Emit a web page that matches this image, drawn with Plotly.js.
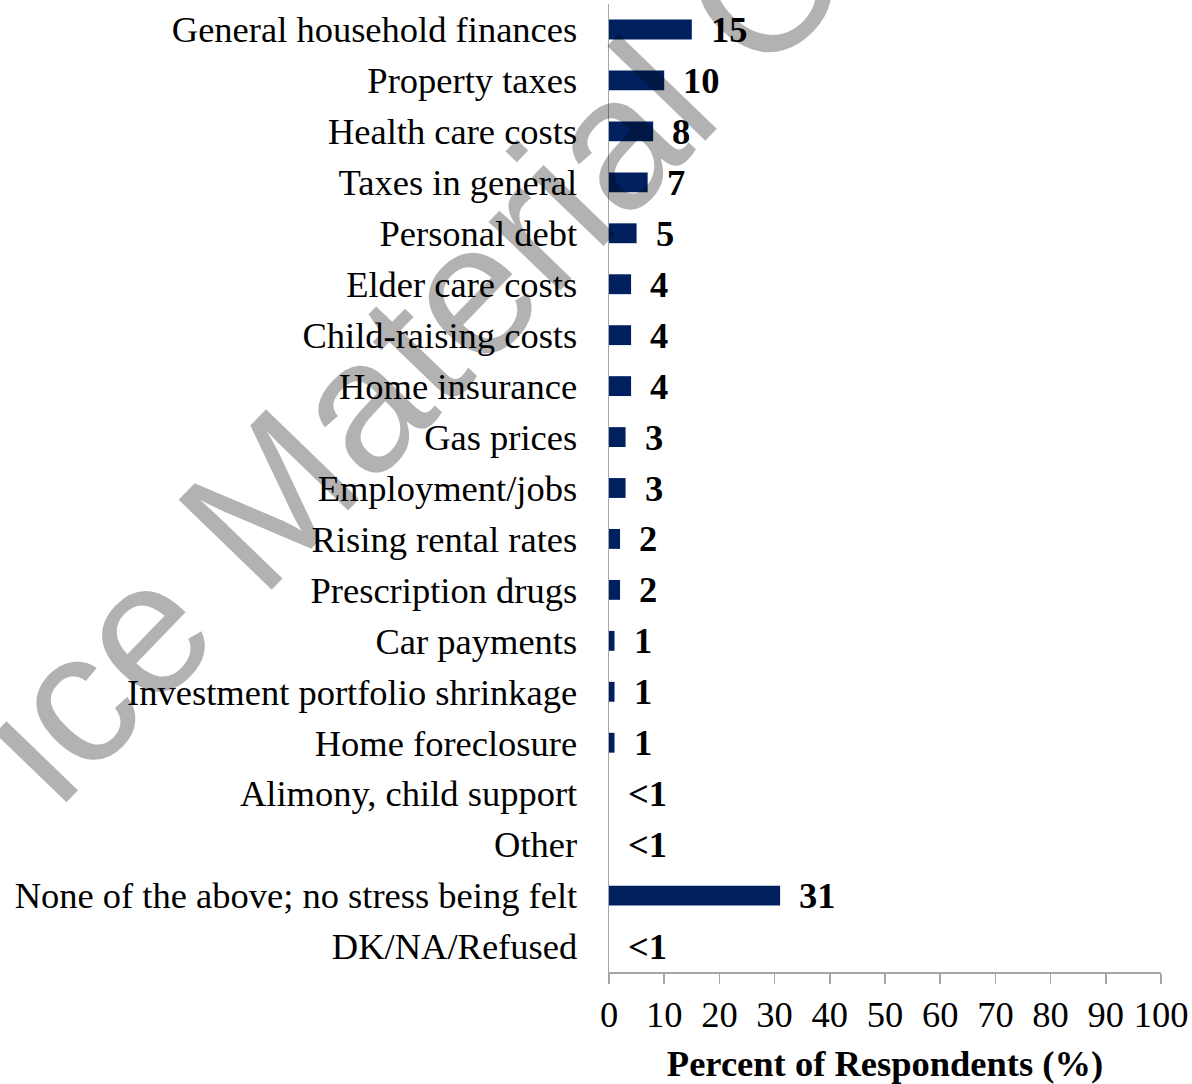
<!DOCTYPE html>
<html>
<head>
<meta charset="utf-8">
<script src="https://cdn.plot.ly/plotly-3.0.1.min.js"></script>
<style>html,body{margin:0;padding:0;background:#fff}#chart{width:1192px;height:1084px}</style>
</head>
<body>
<div id="chart"></div>
<script>
const categories = [
  "General household finances",
  "Property taxes",
  "Health care costs",
  "Taxes in general",
  "Personal debt",
  "Elder care costs",
  "Child-raising costs",
  "Home insurance",
  "Gas prices",
  "Employment/jobs",
  "Rising rental rates",
  "Prescription drugs",
  "Car payments",
  "Investment portfolio shrinkage",
  "Home foreclosure",
  "Alimony, child support",
  "Other",
  "None of the above; no stress being felt",
  "DK/NA/Refused"
];
const values = [15, 10, 8, 7, 5, 4, 4, 4, 3, 3, 2, 2, 1, 1, 1, 0, 0, 31, 0];
const valueLabels = ["15","10","8","7","5","4","4","4","3","3","2","2","1","1","1","<1","<1","31","<1"];
const xTicks = [0,10,20,30,40,50,60,70,80,90,100];
const axisTitle = "Percent of Respondents (%)";
const watermarkText = "ice Material C";

const serif = "'Liberation Serif', 'Times New Roman', serif";
const trace = {
  type: 'bar',
  orientation: 'h',
  x: values,
  y: categories,
  marker: {color: '#002060'},
  width: 0.39,
  hoverinfo: 'none'
};

const annotations = categories.map((c, i) => ({
  x: values[i], y: c, xref: 'x', yref: 'y',
  text: valueLabels[i], showarrow: false,
  xanchor: 'left', yanchor: 'middle', xshift: 17,
  font: {family: serif, size: 36.5, color: '#000', weight: 'bold'}
}));
annotations.push({
  x: -0.3605, y: 0.639, xref: 'paper', yref: 'paper',
  text: watermarkText, showarrow: false, textangle: -46,
  xanchor: 'center', yanchor: 'middle',
  font: {family: "'Liberation Sans', Arial, sans-serif", size: 188, color: 'rgba(0,0,0,0.3)'}
});

const layout = {
  width: 1192, height: 1084,
  margin: {l: 609, r: 31, t: 4, b: 112},
  paper_bgcolor: '#fff', plot_bgcolor: '#fff',
  showlegend: false,
  font: {family: serif, size: 36.5, color: '#000'},
  xaxis: {
    range: [0, 100], tickvals: xTicks, ticktext: xTicks.map(String),
    showgrid: false, zeroline: false,
    showline: true, linecolor: '#a6a6a6', linewidth: 1.5,
    ticks: 'outside', ticklen: 10, tickcolor: '#a6a6a6', tickwidth: 1.5,
    tickfont: {family: serif, size: 36.5, color: '#000'},
    title: {text: axisTitle, font: {family: serif, size: 36.5, color: '#000', weight: 'bold'}, standoff: 16},
    fixedrange: true
  },
  yaxis: {
    autorange: 'reversed', type: 'category',
    showgrid: false, zeroline: false,
    showline: true, linecolor: '#a6a6a6', linewidth: 1.5,
    ticks: '', ticklabelstandoff: 23,
    tickfont: {family: serif, size: 36.5, color: '#000'},
    fixedrange: true
  },
  bargap: 0.6,
  annotations: annotations
};

Plotly.newPlot('chart', [trace], layout, {displayModeBar: false, staticPlot: true});
</script>
</body>
</html>
